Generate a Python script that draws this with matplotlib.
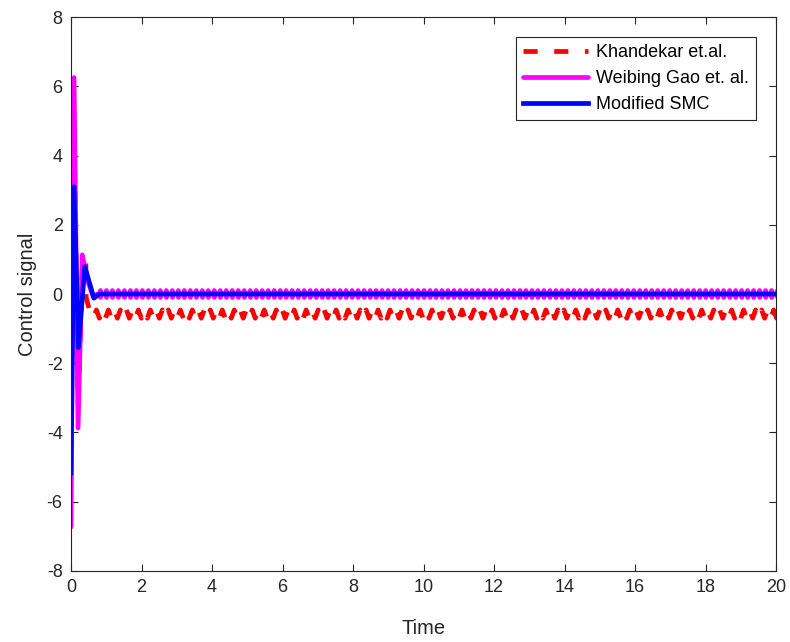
import numpy as np
import matplotlib
matplotlib.use("Agg")
import matplotlib.pyplot as plt

plt.rcParams['font.family'] = ['Liberation Sans', 'DejaVu Sans']
plt.rcParams['axes.unicode_minus'] = False

# ---- transient samples ----
t_khan = [0.0, 0.085, 0.20, 0.33, 0.42, 0.43, 0.55]
u_khan = [-3.6, 5.0, -3.2, 1.05, 1.0, -0.1, -0.58]

t_gao = [0.0, 0.085, 0.20, 0.32, 0.45, 0.63, 0.75]
u_gao = [-6.73, 6.25, -3.87, 1.13, 0.45, -0.08, 0.0]

t_smc = [0.0, 0.085, 0.21, 0.39, 0.65, 0.80]
u_smc = [-5.17, 3.10, -1.55, 0.79, -0.12, 0.0]

# ---- steady-state chattering: one cycle, repeated to t_end ----
t_end = 20.0
ripple_period = 0.17
khan_cycle_phase = [0.0, 0.5]
khan_cycle_vals = [-0.46, -0.70]
gao_cycle_phase = [0.0, 0.47, 0.49, 0.51, 0.53]
gao_cycle_vals = [0.0, 0.0, 0.10, -0.10, 0.0]
smc_steady_val = 0.0

labels = ['Khandekar et.al.', 'Weibing Gao et. al.', 'Modified SMC']


def with_ripple(t_tr, u_tr, phase, vals):
    t0 = t_tr[-1]
    n = int(np.ceil((t_end - t0) / ripple_period)) + 1
    ts, us = list(t_tr), list(u_tr)
    for k in range(n):
        for p, v in zip(phase, vals):
            tt = t0 + ripple_period * (k + p)
            if tt > t0:
                ts.append(tt)
                us.append(v)
    return np.array(ts), np.array(us)


tk, uk = with_ripple(t_khan, u_khan, khan_cycle_phase, khan_cycle_vals)
tg, ug = with_ripple(t_gao, u_gao, gao_cycle_phase, gao_cycle_vals)
ts_, us_ = list(t_smc) + [t_end], list(u_smc) + [smc_steady_val]

fig = plt.figure(figsize=(7.9, 6.42), dpi=100)
ax = fig.add_axes([0.0899, 0.1106, 0.8925, 0.8629])

lw = 3.4
lk, = ax.plot(tk, uk, color='#ff0000', lw=lw, ls=(0, (3.0, 3.5)),
              solid_capstyle='butt', dash_capstyle='butt', label=labels[0])
lg, = ax.plot(tg, ug, color='#ff00ff', lw=lw, solid_capstyle='round',
              solid_joinstyle='round', label=labels[1])
ls_, = ax.plot(ts_, us_, color='#0000ff', lw=lw, solid_joinstyle='round',
               label=labels[2])

ax.set_xlim(0, 20)
ax.set_ylim(-8, 8)
ax.set_xticks(np.arange(0, 21, 2))
ax.set_yticks(np.arange(-8, 9, 2))
ax.tick_params(direction='in', length=5, width=0.8, top=True, right=True,
               labelsize=13, colors='#262626', pad=6)
for s in ax.spines.values():
    s.set_color('#262626')
    s.set_linewidth(0.8)

ax.set_xlabel('Time', fontsize=14.5, color='#262626', labelpad=16)
ax.set_ylabel('Control signal', fontsize=14.5, color='#262626', labelpad=7)

leg = ax.legend(loc='upper right', fontsize=13, frameon=True, fancybox=False,
                edgecolor='#262626', framealpha=1, handlelength=3.6,
                handletextpad=0.45, labelspacing=0.5, borderaxespad=1.1,
                borderpad=0.4)
leg.get_frame().set_linewidth(0.8)

fig.savefig('out.png', dpi=100)
